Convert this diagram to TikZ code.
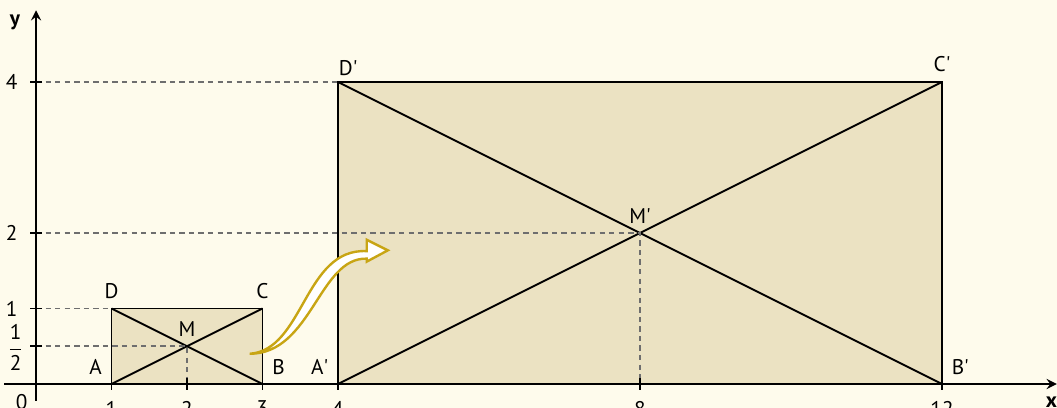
\documentclass[tikz,border=0pt]{standalone}
\usepackage{fontspec}
\setmainfont{PT Sans}
\definecolor{paper}{RGB}{254,251,236}
\definecolor{sand}{RGB}{235,226,194}
\definecolor{ochre}{RGB}{200,165,20}
\definecolor{guide}{RGB}{110,110,110}
\newcommand{\pr}{\textquotesingle}

\begin{document}
\begin{tikzpicture}[>=stealth, line width=0.7pt, font=\fontsize{8}{9.5}\selectfont,
  guideline/.style={guide, line width=0.6pt, dash pattern=on 2pt off 1.6pt},
  figure/.style={draw=black, fill=sand, line join=miter},
  tick/.style={line width=0.7pt}]
\useasboundingbox (-0.477,-0.318) rectangle (13.523,5.086);
\fill[paper] (-0.477,-0.318) rectangle (13.523,5.086);

% points
\coordinate (O) at (0,0);
\coordinate (A) at (1,0);
\coordinate (B) at (3,0);
\coordinate (C) at (3,1);
\coordinate (D) at (1,1);
\coordinate (M) at (2,0.5);
\coordinate (Ap) at (4,0);
\coordinate (Bp) at (12,0);
\coordinate (Cp) at (12,4);
\coordinate (Dp) at (4,4);
\coordinate (Mp) at (8,2);

% rectangles
\draw[figure] (A) -- (B) -- (C) -- (D) -- cycle;
\draw[figure] (Ap) -- (Bp) -- (Cp) -- (Dp) -- cycle;
\draw (A) -- (C);
\draw (B) -- (D);
\draw (Ap) -- (Cp);
\draw (Bp) -- (Dp);

% guide lines
\draw[guideline] (0,1) -- (D);
\draw[guideline] (0,0.5) -- (M) -- (2,0);
\draw[guideline] (0,4) -- (Dp);
\draw[guideline] (0,2) -- (Mp) -- (8,0);

% axes
\draw[->] (-0.42,0) -- (13.52,0);
\draw[->] (0,-0.22) -- (0,4.95);
\foreach \x in {1,2,3,4,8,12}
  \draw[tick] (\x,0.08) -- (\x,-0.08) node[below=0.5pt] {\x};
\foreach \y in {1,2,4}
  \draw[tick] (0.08,\y) -- (-0.08,\y) node[left=1pt] {\y};
\draw[tick] (0.08,0.5) -- (-0.08,0.5);
\node at (-0.27,0.48) {$\displaystyle\frac{\mbox{1}}{\mbox{2}}$};
\node at (-0.19,-0.24) {0};
\node[font=\fontsize{8}{9.5}\selectfont\bfseries] at (-0.28,4.79) {y};
\node[font=\fontsize{8}{9.5}\selectfont\bfseries] at (13.45,-0.24) {x};

% labels
\node[above left] at (A) {A};
\node[above right] at (B) {B};
\node[above] at (C) {C};
\node[above] at (D) {D};
\node[above] at (M) {M};
\node[above left] at (Ap) {A\pr};
\node[above right] at (Bp) {B\pr};
\node[above] at (Cp) {C\pr};
\node[anchor=south west, inner sep=1pt, xshift=-1pt, yshift=1pt] at (Dp) {D\pr};
\node[above] at (Mp) {M\pr};

% curved arrow
\coordinate (tail) at (2.83,0.40);
\draw[ochre, fill=white, line width=0.9pt, line join=miter]
  (tail) .. controls (3.55,0.45) and (3.55,1.80) .. (4.38,1.76)
  -- (4.38,1.91) -- (4.66,1.77) -- (4.38,1.62) -- (4.38,1.66)
  .. controls (3.75,1.68) and (3.65,0.40) .. (tail) -- cycle;
\end{tikzpicture}
\end{document}
